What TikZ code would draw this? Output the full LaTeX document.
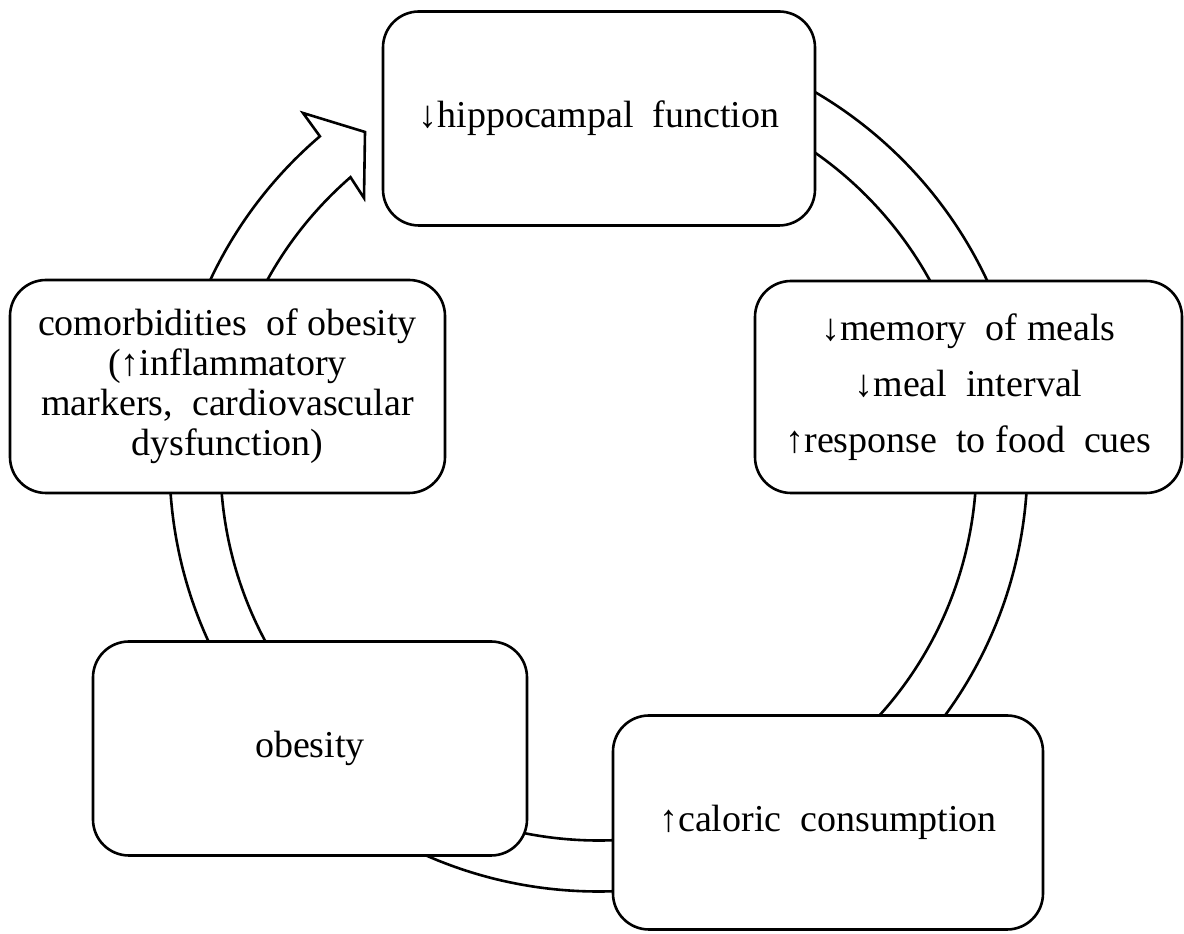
\documentclass[tikz,border=0pt]{standalone}
\usepackage{fontspec}
\setmainfont{Liberation Serif}
\usepackage{tikz}
\usetikzlibrary{calc, positioning}
\tikzset{%
   % rounded box of the cycle, filled white so it hides the ring below
   stage/.style={
      draw,
      fill=white,
      rounded corners=36pt,
      line width=2.6pt,
      minimum width=432pt,
      minimum height=214pt,
      align=center,
      inner sep=0pt,
      font=\fontsize{38}{40}\selectfont
   },
   % the wide circular arrow behind the boxes
   ring/.style={
      draw,
      fill=white,
      line width=2.6pt,
      line join=miter
   },
}

\begin{document}
\begin{tikzpicture}[x=1pt, y=1pt]
    \useasboundingbox (0,0) rectangle (1184,934);
    \coordinate (o) at (598.5,471.5);
    \coordinate (wing) at (303,821);
    \coordinate (tipa) at (365,802);
    \coordinate (tipb) at (364,736);
    \draw[ring] ($(o)+(90:429pt)$) arc[start angle=90, end angle=-229.5, radius=429pt]
        -- (wing) -- (tipa) -- (tipb) -- ($(o)+(-229:378pt)$)
        arc[start angle=-229, end angle=90, radius=378pt] -- cycle;
    \node[stage] (hip) at (599,815.5) {↓hippocampal\ \ function};
    \node[stage, minimum width=427pt, minimum height=212pt] (mem) at (968.5,547)
        {↓memory\ \ of meals\\[16pt]↓meal\ \ interval\\[16pt]↑response\ \ to food\ \ cues};
    \node[stage, minimum width=430pt] (cal) at (828,111.5) {↑caloric\ \ consumption};
    \node[stage, minimum width=434pt] (obe) at (310,185.5) {obesity};
    \node[stage, minimum width=435pt, minimum height=213pt] (com) at (227.5,547.5)
        {comorbidities\ \ of obesity\\(↑inflammatory\\markers,\ \ cardiovascular\\dysfunction)};
\end{tikzpicture}
\end{document}
